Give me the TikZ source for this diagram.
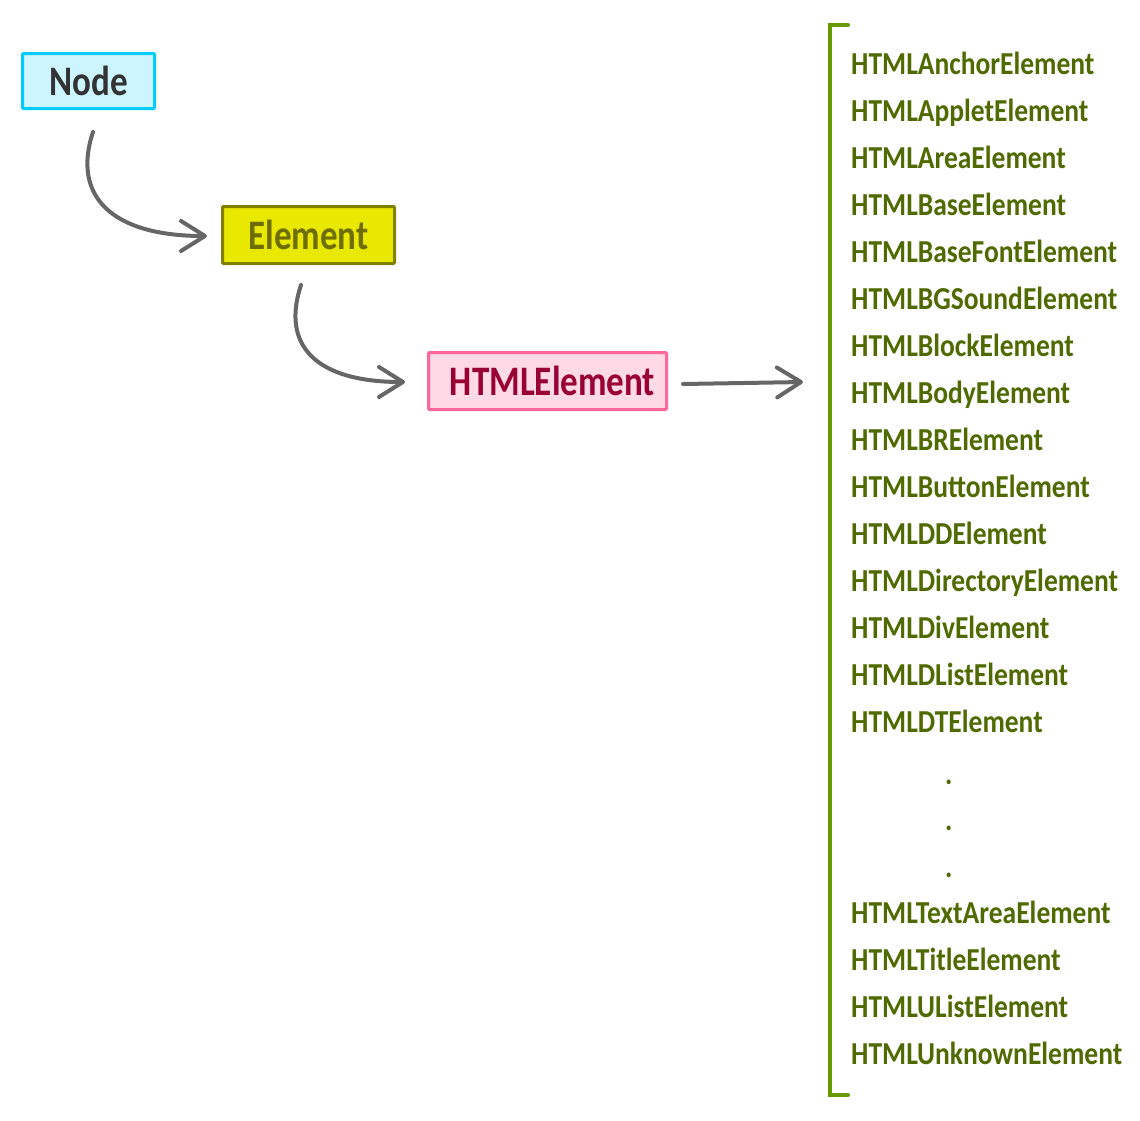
\documentclass[tikz,border=0pt]{standalone}
\usepackage{fontspec}
\setmainfont{Carlito}[FakeStretch=0.86]
\newfontfamily\boxfont{Carlito}[FakeStretch=0.835]
\usetikzlibrary{arrows.meta,calc}
\definecolor{nodefill}{HTML}{CCF5FF}
\definecolor{nodeline}{HTML}{00CCFF}
\definecolor{nodetext}{HTML}{333333}
\definecolor{elfill}{HTML}{E8E800}
\definecolor{elline}{HTML}{808000}
\definecolor{eltext}{HTML}{6E6E00}
\definecolor{hfill}{HTML}{FFD9E6}
\definecolor{hline}{HTML}{FF6699}
\definecolor{htext}{HTML}{990033}
\definecolor{arrgray}{HTML}{666666}
\definecolor{brgreen}{HTML}{669900}
\definecolor{listtext}{HTML}{4F6A00}
\tikzset{
  box/.style={draw, line width=3pt, rounded corners=1pt, inner sep=0pt,
    font=\boxfont\fontsize{42}{42}\selectfont\bfseries},
  arr/.style={draw=arrgray, line width=4pt, line cap=round, line join=round,
    -{Straight Barb[length=24pt,width=30pt,round]}},
  item/.style={anchor=base west, inner sep=0pt, text=listtext,
    font=\fontsize{32}{32}\selectfont\bfseries},
}
\begin{document}
\begin{tikzpicture}[x=1pt,y=-1pt]
\useasboundingbox (0,0) rectangle (1140,1120);
\node[box, fill=nodefill, draw=nodeline, text=nodetext, minimum width=132pt, minimum height=55pt] (n1) at (88.5,81) {Node};
\node[box, fill=elfill, draw=elline, text=eltext, minimum width=172pt, minimum height=57pt] (n2) at (308.5,235) {Element};
\node[box, fill=hfill, draw=hline, text=htext, minimum width=238pt, minimum height=57pt] (n3) at (547.5,381) {\hspace*{10pt}HTMLElement};
\coordinate (listin) at (803,382);
\draw[arr] ($(n1.south)+(4.5,22)$) .. controls +(-21,63) and +(-97,0) .. ($(n2.west)+(-14,1)$);
\draw[arr] ($(n2.south)+(-7.5,20)$) .. controls +(-20,60) and +(-90,0) .. ($(n3.west)+(-22,1)$);
\draw[arr] ($(n3.east)+(15,3)$) -- (listin);
\draw[brgreen, line width=4pt, line cap=round, line join=miter] (848,25) -- (830,25) -- (830,1095) -- (848,1095);
\foreach \t [count=\i from 0] in {HTMLAnchorElement,HTMLAppletElement,HTMLAreaElement,HTMLBaseElement,HTMLBaseFontElement,HTMLBGSoundElement,HTMLBlockElement,HTMLBodyElement,HTMLBRElement,HTMLButtonElement,HTMLDDElement,HTMLDirectoryElement,HTMLDivElement,HTMLDListElement,HTMLDTElement}
  \node[item] (a\i) at (851,{74+47*\i}) {\t};
\foreach \y [count=\i] in {784,830,877}
  \node[item] (d\i) at (945,\y) {.};
\foreach \t [count=\i from 0] in {HTMLTextAreaElement,HTMLTitleElement,HTMLUListElement,HTMLUnknownElement}
  \node[item] (b\i) at (851,{923+47.3*\i}) {\t};
\end{tikzpicture}
\end{document}
